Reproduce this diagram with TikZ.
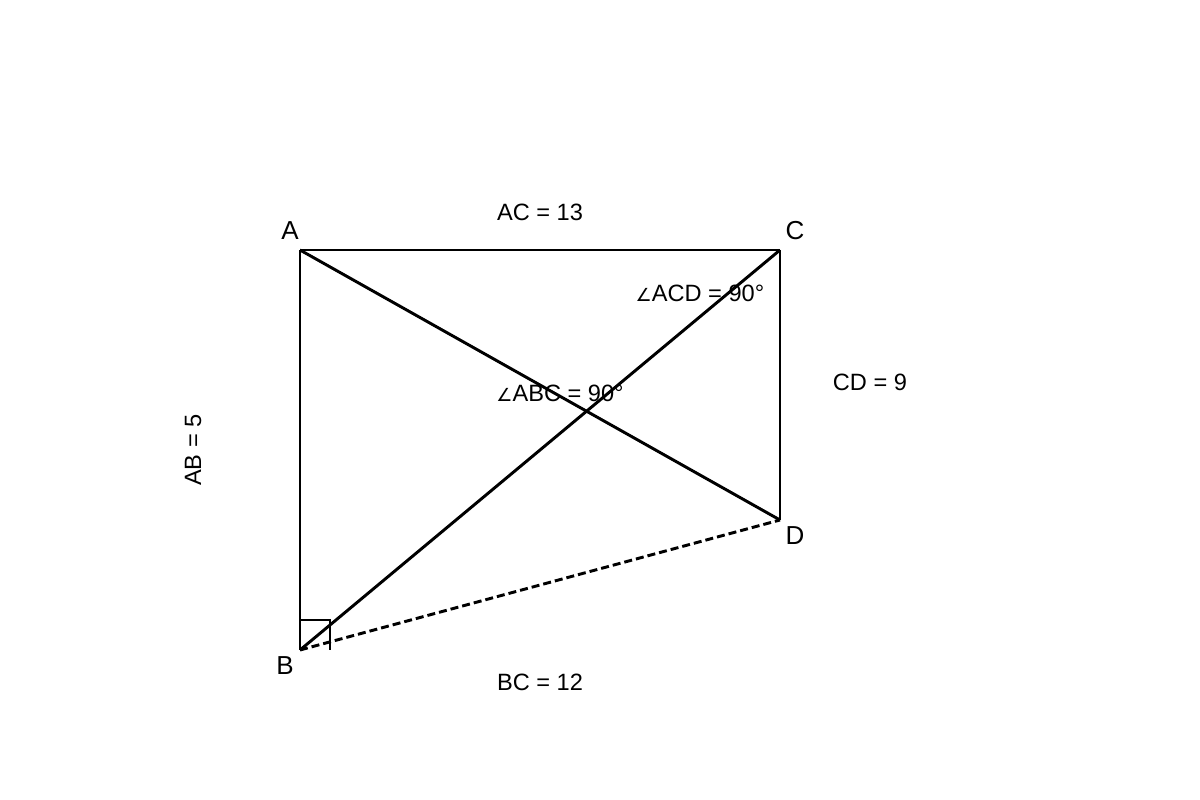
\documentclass[tikz,border=0pt]{standalone}
\usepackage{fontspec}
\setmainfont{Liberation Sans}
\newfontfamily\symfont{DejaVu Sans}
\begin{document}
\begin{tikzpicture}[x=0.75pt,y=-0.75pt,
  edge/.style={line width=2.2pt,black},
  dashedge/.style={line width=2.2pt,black,dash pattern=on 6pt off 3pt},
  vlabel/.style={font=\fontsize{19.5}{23}\selectfont},
  mlabel/.style={font=\fontsize{17.7}{21}\selectfont}]
\useasboundingbox[fill=white] (0,0) rectangle (1200,800);
\coordinate (A) at (300,250);
\coordinate (C) at (780,250);
\coordinate (D) at (780,520);
\coordinate (B) at (300,650);
\draw[edge] (A) -- (C);
\draw[edge] (C) -- (D);
\draw[edge] (A) -- (B);
\draw[edge] (A) -- (D);
\draw[edge] (B) -- (C);
\draw[dashedge] (B) -- (D);
\coordinate (r1) at (300,620);
\coordinate (r2) at (330,620);
\coordinate (r3) at (330,650);
\draw[line width=1.1pt] (r1) -- (r2) -- (r3);
\node[vlabel] (lA) at (290,231) {A};
\node[vlabel] (lC) at (795,231) {C};
\node[vlabel] (lD) at (795,536) {D};
\node[vlabel] (lB) at (285,666) {B};
\node[mlabel] (ac) at (540,212) {AC = 13};
\node[mlabel] (cd) at (870,382) {CD = 9};
\node[mlabel] (bc) at (540,682) {BC = 12};
\node[mlabel,rotate=90] (ab) at (193,450) {AB = 5};
\node[mlabel] (acd) at (700,293) {{\symfont\fontsize{13.5}{15}\selectfont ∠}ACD = 90°};
\node[mlabel] (abc) at (560,393) {{\symfont\fontsize{13.5}{15}\selectfont ∠}ABC = 90°};
\end{tikzpicture}
\end{document}
